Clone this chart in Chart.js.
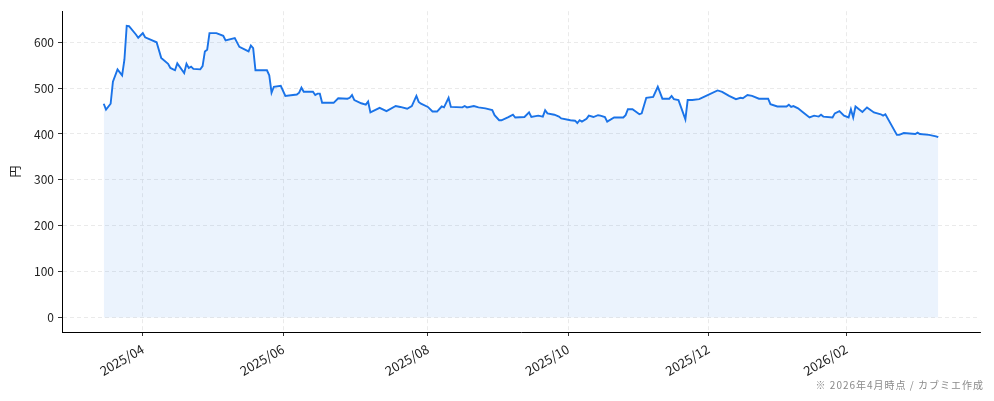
<!DOCTYPE html>
<html>
<head>
<meta charset="utf-8">
<script src="https://cdn.jsdelivr.net/npm/chart.js@4.4.1/dist/chart.umd.min.js"></script>
<style>
  html, body { margin: 0; padding: 0; background: #fff; }
  #wrap { position: relative; width: 994px; height: 401px; }
  #note { position: absolute; right: 10px; top: 377px; font: 10px "Noto Sans CJK JP", sans-serif; color: #8a8a8a; letter-spacing: 1px; }
</style>
</head>
<body>
<div id="wrap">
  <canvas id="priceChart" width="994" height="401"></canvas>
  <div id="note">※ 2026年4月時点 / カブミエ作成</div>
</div>
<script>
// Daily close (円)
const dates = [
  "2025-03-15", "2025-03-16", "2025-03-18", "2025-03-19", "2025-03-21", "2025-03-23", "2025-03-24", "2025-03-25",
  "2025-03-26", "2025-03-29", "2025-03-30", "2025-04-01", "2025-04-02", "2025-04-07", "2025-04-09", "2025-04-12",
  "2025-04-13", "2025-04-15", "2025-04-16", "2025-04-19", "2025-04-20", "2025-04-21", "2025-04-22", "2025-04-23",
  "2025-04-26", "2025-04-27", "2025-04-28", "2025-04-29", "2025-04-30", "2025-05-03", "2025-05-06", "2025-05-07",
  "2025-05-11", "2025-05-13", "2025-05-17", "2025-05-18", "2025-05-19", "2025-05-20", "2025-05-25", "2025-05-26",
  "2025-05-27", "2025-05-28", "2025-05-31", "2025-06-02", "2025-06-07", "2025-06-08", "2025-06-09", "2025-06-10",
  "2025-06-14", "2025-06-15", "2025-06-16", "2025-06-17", "2025-06-18", "2025-06-23", "2025-06-25", "2025-06-29",
  "2025-06-30", "2025-07-01", "2025-07-02", "2025-07-05", "2025-07-07", "2025-07-08", "2025-07-09", "2025-07-13",
  "2025-07-16", "2025-07-20", "2025-07-22", "2025-07-25", "2025-07-27", "2025-07-29", "2025-07-30", "2025-07-31",
  "2025-08-03", "2025-08-05", "2025-08-07", "2025-08-09", "2025-08-10", "2025-08-12", "2025-08-13", "2025-08-18",
  "2025-08-19", "2025-08-20", "2025-08-23", "2025-08-25", "2025-08-28", "2025-08-31", "2025-09-01", "2025-09-03",
  "2025-09-04", "2025-09-07", "2025-09-09", "2025-09-10", "2025-09-14", "2025-09-16", "2025-09-17", "2025-09-20",
  "2025-09-22", "2025-09-23", "2025-09-24", "2025-09-27", "2025-09-29", "2025-09-30", "2025-10-04", "2025-10-06",
  "2025-10-07", "2025-10-08", "2025-10-09", "2025-10-11", "2025-10-12", "2025-10-14", "2025-10-16", "2025-10-17",
  "2025-10-19", "2025-10-20", "2025-10-23", "2025-10-27", "2025-10-28", "2025-10-29", "2025-10-31", "2025-11-03",
  "2025-11-04", "2025-11-06", "2025-11-09", "2025-11-11", "2025-11-13", "2025-11-16", "2025-11-17", "2025-11-18",
  "2025-11-20", "2025-11-23", "2025-11-24", "2025-11-26", "2025-11-29", "2025-12-02", "2025-12-07", "2025-12-09",
  "2025-12-12", "2025-12-15", "2025-12-17", "2025-12-18", "2025-12-20", "2025-12-22", "2025-12-25", "2025-12-29",
  "2025-12-30", "2026-01-02", "2026-01-06", "2026-01-07", "2026-01-08", "2026-01-09", "2026-01-11", "2026-01-13",
  "2026-01-16", "2026-01-18", "2026-01-20", "2026-01-21", "2026-01-22", "2026-01-26", "2026-01-27", "2026-01-29",
  "2026-01-31", "2026-02-02", "2026-02-03", "2026-02-04", "2026-02-05", "2026-02-08", "2026-02-10", "2026-02-13",
  "2026-02-16", "2026-02-17", "2026-02-18", "2026-02-23", "2026-02-24", "2026-02-26", "2026-03-03", "2026-03-04",
  "2026-03-05", "2026-03-09", "2026-03-12", "2026-03-13"
];
const prices = [
  466, 453, 466, 514, 541, 528, 562, 636,
  635, 617, 610, 620, 611, 600, 566, 553,
  544, 539, 554, 533, 553, 544, 547, 542,
  541, 548, 580, 584, 620, 620, 614, 604,
  609, 590, 580, 593, 587, 539, 539, 528,
  490, 503, 505, 483, 486, 490, 501, 492,
  492, 485, 488, 488, 468, 468, 478, 477,
  479, 485, 474, 467, 464, 471, 447, 457,
  450, 461, 459, 455, 461, 483, 470, 466,
  459, 449, 449, 460, 458, 479, 459, 458,
  461, 458, 461, 458, 456, 452, 441, 430,
  430, 437, 442, 436, 437, 447, 437, 440,
  438, 452, 445, 442, 438, 434, 430, 429,
  424, 430, 427, 433, 440, 437, 441, 440,
  437, 427, 436, 436, 441, 454, 454, 443,
  445, 479, 481, 503, 477, 477, 483, 476,
  474, 432, 474, 474, 476, 483, 495, 492,
  483, 476, 479, 478, 485, 483, 477, 477,
  465, 460, 460, 464, 459, 461, 456, 448,
  436, 440, 438, 442, 438, 436, 445, 450,
  440, 436, 454, 436, 460, 448, 458, 447,
  443, 440, 443, 398, 398, 402, 400, 403,
  400, 398, 395, 393
];
// where the reference puts its month ticks on the date axis
const xTickDates = ["2025-04-01", "2025-06-01", "2025-08-03", "2025-10-03", "2025-12-03", "2026-02-01"];
const yTicks = [0, 100, 200, 300, 400, 500, 600];

// date string -> day number, so the linear scale keeps real spacing
const toDay = (s) => Date.parse(s + "T00:00:00Z") / 86400000;
const fmtMonth = (v) => {
  const d = new Date(v * 86400000);
  return d.getUTCFullYear() + "/" + String(d.getUTCMonth() + 1).padStart(2, "0");
};

const points = dates.map((d, i) => ({x: toDay(d), y: prices[i]}));
const first = points[0].x, last = points[points.length - 1].x;
const xPad = (last - first) * 0.05;
const yTop = Math.max(...prices);
const yPad = yTop * 0.05;

const FAMILY = "'Noto Sans CJK JP', 'Noto Sans', sans-serif";
const FONT = {family: FAMILY, size: 12};
const GRID = {color: "#e4e4e4", tickColor: "#000", tickLength: 4, tickBorderDash: [], lineWidth: 0.8};
const BORDER = {color: "#000", width: 1, dash: [4, 3]};

new Chart(document.getElementById("priceChart"), {
  type: "line",
  data: {
    datasets: [{
      data: points, borderColor: "#1a73e8", backgroundColor: "rgba(26,115,232,0.085)",
      borderWidth: 1.9, pointRadius: 0, fill: "origin", tension: 0,
    }],
  },
  options: {
    responsive: false, animation: false,
    layout: {padding: {left: 0, right: 14, top: 10, bottom: 0}},
    plugins: {legend: {display: false}, tooltip: {enabled: false}},
    scales: {
      x: {
        type: "linear", min: first - xPad, max: last + xPad,
        afterBuildTicks: (s) => { s.ticks = xTickDates.map((m) => ({value: toDay(m)})); },
        afterFit: (s) => { s.height = 69; },
        ticks: {autoSkip: false, maxRotation: 30, minRotation: 30, padding: 5, color: "#222", font: {family: FAMILY, size: 13}, callback: (v) => fmtMonth(v)},
        grid: GRID, border: BORDER,
      },
      y: {
        min: -yPad, max: yTop + yPad,
        afterBuildTicks: (s) => { s.ticks = yTicks.map((v) => ({value: v})); },
        afterFit: (s) => { s.width = 62; },
        ticks: {padding: 4, color: "#222", font: FONT},
        title: {display: true, text: "円", color: "#222", font: FONT, padding: {top: 8, bottom: 4}},
        grid: GRID, border: BORDER,
      },
    },
  },
});
</script>
</body>
</html>
